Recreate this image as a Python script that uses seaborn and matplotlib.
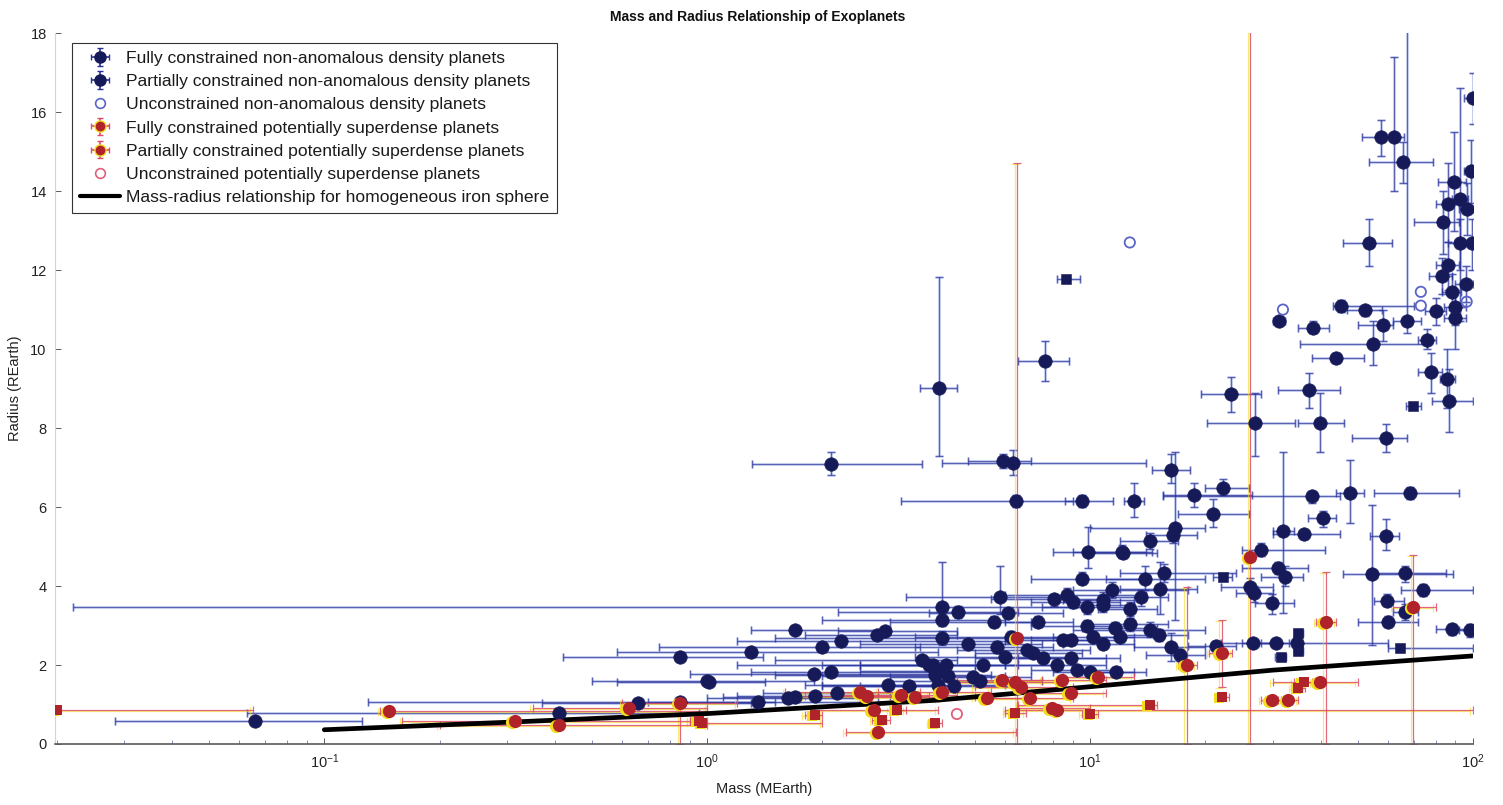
import numpy as np
import pandas as pd
import matplotlib
matplotlib.use("Agg")
import matplotlib.pyplot as plt
import matplotlib.transforms as mtransforms
from matplotlib.lines import Line2D
import seaborn as sns

# ---------------------------------------------------------------------------
# Fully constrained, non-anomalous density planets (giants / sub-giants)
# masses in Earth masses, radii in Earth radii, bounds are the error-bar ends
giant_mass = [100, 57.5, 62.2, 65.8, 67.1, 89.4, 98.6, 85.9, 92.5, 96.3,
              83.4, 92.5, 99.3, 53.6, 85.9, 82.8, 96.0, 88.1, 89.6, 79.9,
              89.6, 45.1, 52.3, 58.1, 31.1, 38.3, 54.8, 75.7, 43.9, 77.6,
              85.5, 86.8, 23.4, 37.2, 26.9, 39.9, 59.3, 16.3, 18.7, 22.3,
              13.0, 37.9, 47.7, 68.5, 21.0, 40.6, 31.9, 36.3, 59.3, 16.7,
              16.5, 14.3, 12.1, 27.9, 13.9, 15.6, 31.0, 32.2, 26.2, 26.8,
              54.5, 66.4, 74.1, 11.4, 15.2, 13.6, 10.8, 29.8, 59.8, 66.4,
              12.7, 60.1, 88.4, 98.2, 14.3, 15.1, 12.7, 26.7, 30.6, 34.7,
              21.3, 16.3, 17.2]
giant_radius = [16.36, 15.37, 15.37, 14.74, 10.70, 14.24, 14.51, 13.68, 13.80, 13.56,
                13.23, 12.68, 12.68, 12.68, 12.12, 11.85, 11.66, 11.45, 11.07, 10.96,
                10.78, 11.10, 10.99, 10.61, 10.71, 10.54, 10.12, 10.23, 9.78, 9.43,
                9.24, 8.69, 8.86, 8.96, 8.12, 8.14, 7.74, 6.95, 6.30, 6.49,
                6.16, 6.28, 6.36, 6.36, 5.82, 5.71, 5.39, 5.31, 5.27, 5.46,
                5.30, 5.15, 4.87, 4.91, 4.18, 4.32, 4.45, 4.24, 3.98, 3.83,
                4.30, 4.32, 3.90, 3.90, 3.92, 3.71, 3.65, 3.58, 3.63, 3.35,
                3.43, 3.10, 2.90, 2.89, 2.89, 2.76, 3.04, 2.55, 2.55, 2.55,
                2.48, 2.46, 2.25]
giant_mass_lo = [95, 51.2, 58, 53.5, 62, 81, 95, 80, 88, 92,
                 70, 86, 95, 45.8, 80, 77, 90, 83, 84, 75,
                 84, 43, 47, 50, 30, 35, 35.3, 72, 38, 72,
                 82, 78, 19.5, 31, 20.2, 35, 48.2, 14.5, 15.5, 20,
                 12.3, 15.5, 44, 55, 17, 37, 30, 30, 54, 10,
                 14, 12, 9, 25, 11, 12, 25, 28, 22, 24,
                 45.8, 55, 65, 9, 12, 11, 8.5, 27, 55, 62,
                 10.5, 50, 80, 92, 9, 12, 10, 22, 28, 25,
                 18, 13, 14]
giant_mass_hi = [104, 60.7, 66, 78.6, 73, 96, 100, 92, 97, 100,
                 92, 99, 103, 61.5, 92, 88, 100, 93, 96, 85,
                 96, 70, 58, 62, 32.3, 42, 75.9, 80, 52, 83,
                 90, 100, 28, 45, 34.3, 46, 67.1, 18.2, 26.5, 26,
                 13.8, 45, 52, 92, 26, 44, 34, 45, 64, 20,
                 19, 17, 14.5, 41, 20, 24, 37, 36, 30, 30,
                 88.7, 85, 100, 18, 19, 16, 13, 34, 66, 72,
                 15, 72, 97, 100, 20, 18, 16, 30, 33, 60,
                 24, 20, 20]
giant_rad_lo = [15.7, 14.9, 14.0, 14.2, 10.4, 13.0, 13.7, 12.7, 10.7, 12.9,
                12.4, 12.0, 12.0, 12.1, 11.5, 11.4, 11.2, 11.0, 10.6, 10.6,
                10.0, 10.95, 10.85, 10.2, 10.6, 10.4, 9.6, 10.0, 9.65, 8.9,
                8.5, 7.9, 8.4, 8.5, 7.3, 7.4, 7.4, 6.6, 6.0, 6.3,
                5.75, 6.1, 5.6, 6.2, 5.5, 5.5, 3.31, 5.2, 4.9, 3.14,
                5.1, 4.95, 4.7, 4.75, 3.9, 4.1, 4.3, 4.0, 3.8, 3.6,
                2.5, 4.1, 3.75, 3.7, 3.3, 3.5, 3.45, 3.3, 3.5, 3.15,
                3.25, 2.95, 2.75, 2.7, 2.7, 2.6, 2.85, 2.45, 2.45, 2.45,
                2.35, 2.1, 2.1]
giant_rad_hi = [17.0, 15.8, 17.4, 15.25, 18.5, 15.5, 15.3, 14.7, 16.6, 14.2,
                14.0, 13.3, 13.3, 13.3, 12.7, 12.3, 12.1, 11.9, 11.5, 11.3,
                11.5, 11.25, 11.1, 11.0, 10.8, 10.7, 10.7, 10.5, 9.9, 9.9,
                10.0, 9.5, 9.3, 9.4, 8.9, 8.9, 8.1, 7.35, 6.6, 6.7,
                6.6, 6.4, 7.2, 6.5, 6.2, 5.9, 7.40, 5.4, 5.7, 7.4,
                5.5, 5.35, 5.05, 5.1, 4.5, 4.55, 4.6, 4.5, 4.2, 4.0,
                6.05, 4.5, 4.05, 4.1, 4.6, 3.9, 3.85, 3.8, 3.8, 3.55,
                3.6, 3.25, 3.05, 3.05, 3.1, 2.9, 3.2, 2.65, 2.65, 2.65,
                2.6, 2.8, 2.4]

# Fully constrained, non-anomalous density planets (small planets)
small_mass = [2.11, 5.94, 6.31, 6.40, 9.55, 4.02, 7.63, 9.86, 9.50, 4.11,
              4.53, 4.11, 4.11, 5.60, 6.09, 5.82, 7.33, 8.05, 8.69, 9.04,
              9.80, 10.8, 9.80, 11.6, 4.81, 6.20, 5.71, 6.84, 7.10, 7.55,
              8.52, 8.90, 10.2, 12.0, 10.8, 5.26, 6.00, 8.19, 8.90, 9.22,
              10.0, 11.7, 3.90, 4.20, 3.93, 4.25, 4.96, 5.15, 4.00, 4.40,
              1.70, 2.77, 2.92, 2.23, 2.00, 1.30, 1.90, 2.10, 1.01, 3.64,
              3.80, 3.95, 3.36, 2.97, 1.36, 1.63, 1.70, 1.91, 2.18, 0.066,
              0.41, 0.66, 0.85, 0.85, 1.00, 12.2]
small_radius = [7.09, 7.17, 7.12, 6.15, 6.15, 9.02, 9.70, 4.85, 4.19, 3.48,
                3.35, 3.14, 2.68, 3.10, 3.31, 3.71, 3.10, 3.66, 3.77, 3.60,
                3.48, 3.52, 2.99, 2.93, 2.53, 2.70, 2.45, 2.38, 2.30, 2.17,
                2.63, 2.63, 2.72, 2.72, 2.52, 2.00, 2.21, 2.00, 2.17, 1.87,
                1.83, 1.83, 2.00, 2.00, 1.75, 1.72, 1.70, 1.60, 1.49, 1.46,
                2.89, 2.76, 2.87, 2.62, 2.46, 2.32, 1.77, 1.83, 1.58, 2.13,
                2.00, 1.84, 1.47, 1.49, 1.07, 1.16, 1.18, 1.22, 1.28, 0.57,
                0.78, 1.04, 1.07, 2.21, 1.60, 4.84]
small_mass_lo = [1.31, 4.8, 4.1, 3.2, 8.6, 3.6, 6.5, 8.0, 7.0, 0.022,
                 2.2, 2.0, 1.5, 3.0, 3.8, 3.3, 6.0, 5.5, 6.0, 7.0,
                 7.5, 9.0, 7.0, 9.5, 2.5, 3.5, 3.5, 4.5, 5.0, 5.0,
                 6.0, 7.0, 8.0, 10, 8.5, 2.5, 3.5, 6.0, 6.5, 7.0,
                 8.0, 9.5, 1.2, 2.5, 1.5, 2.0, 3.0, 3.0, 2.0, 2.5,
                 1.3, 1.8, 2.2, 1.2, 0.75, 0.58, 0.9, 1.3, 0.58, 1.5,
                 2.0, 2.5, 2.0, 1.8, 0.7, 1.0, 1.1, 1.2, 1.4, 0.0284,
                 0.063, 0.37, 0.13, 0.42, 0.5, 10]
small_mass_hi = [3.64, 7.0, 14.0, 9.0, 11.5, 4.5, 8.8, 14.0, 14.0, 10.0,
                 6.5, 6.0, 9.0, 7.0, 8.5, 9.0, 9.0, 11, 14, 12,
                 13, 13, 13, 15, 7.5, 9.0, 8.0, 10, 9.5, 11,
                 12, 11, 13, 15, 13, 8.0, 9.0, 11, 12, 12,
                 13, 14, 6.0, 6.5, 5.5, 6.0, 7.0, 7.5, 6.0, 6.5,
                 3.0, 4.5, 4.5, 6.0, 3.6, 4.0, 4.0, 3.8, 1.42, 4.5,
                 5.0, 5.0, 4.5, 4.0, 2.5, 2.6, 2.8, 3.0, 3.3, 0.1256,
                 0.95, 1.3, 1.5, 1.4, 1.9, 15]
small_rad_lo = [6.8, 7.0, 6.8, 6.0, 6.0, 7.29, 9.2, 4.45, 4.05, 3.2,
                3.2, 3.0, 2.5, 2.95, 3.2, 3.3, 2.95, 3.5, 3.6, 3.45,
                3.3, 3.35, 2.85, 2.8, 2.4, 2.55, 2.3, 2.25, 2.2, 2.05,
                2.5, 2.5, 2.6, 2.6, 2.4, 1.9, 2.1, 1.9, 2.05, 1.75,
                1.7, 1.7, 1.9, 1.9, 1.65, 1.62, 1.6, 1.5, 1.4, 1.36,
                2.8, 2.65, 2.8, 2.55, 2.4, 2.25, 1.7, 1.7, 1.52, 2.05,
                1.9, 1.75, 1.4, 1.42, 1.0, 1.08, 1.1, 1.15, 1.2, 0.55,
                0.72, 0.98, 1.0, 2.15, 1.55, 4.7]
small_rad_hi = [7.4, 7.35, 7.45, 6.3, 6.3, 11.83, 10.2, 5.5, 4.35, 4.6,
                3.5, 3.3, 2.85, 3.25, 3.45, 4.5, 3.25, 3.8, 3.95, 3.75,
                3.65, 3.7, 3.15, 3.1, 2.65, 2.85, 2.6, 2.5, 2.4, 2.3,
                2.75, 2.75, 2.85, 2.85, 2.65, 2.1, 2.3, 2.1, 2.3, 2.0,
                1.95, 1.95, 2.1, 2.1, 1.85, 1.82, 1.8, 1.7, 1.6, 1.56,
                3.0, 2.85, 2.95, 2.7, 2.55, 2.4, 1.85, 1.95, 1.65, 2.2,
                2.1, 1.95, 1.55, 1.56, 1.15, 1.24, 1.26, 1.3, 1.36, 0.6,
                0.84, 1.1, 1.14, 2.27, 1.66, 5.0]

# Partially constrained, non-anomalous density planets (mass error only)
part_mass = [8.66, 22.3, 35.0, 35.0, 31.6, 64.5, 69.8]
part_radius = [11.77, 4.24, 2.80, 2.36, 2.21, 2.44, 8.56]
part_mass_lo = [8.2, 21.0, 34.0, 34.0, 30.5, 60, 67]
part_mass_hi = [9.4, 23.5, 36.0, 36.0, 32.5, 100, 73]

# Unconstrained, non-anomalous density planets
unc_mass = [12.7, 73.1, 73.1, 96.3, 31.9]
unc_radius = [12.7, 11.45, 11.10, 11.2, 11.0]

# Fully constrained, potentially superdense planets
dense_mass = [26.2, 69.8, 41.3, 22.1, 17.9, 39.8, 29.8, 32.9, 6.45, 6.37,
              6.60, 8.45, 10.5, 6.97, 7.94, 8.20, 5.38, 4.10, 8.90, 5.90,
              2.51, 2.62, 2.72, 2.80, 3.20, 3.50, 0.148, 0.314, 0.409, 0.624,
              0.85]
dense_radius = [4.74, 3.46, 3.10, 2.30, 2.00, 1.58, 1.11, 1.11, 2.68, 1.58,
                1.45, 1.62, 1.70, 1.16, 0.90, 0.85, 1.16, 1.32, 1.30, 1.63,
                1.32, 1.22, 0.86, 0.31, 1.25, 1.20, 0.83, 0.57, 0.48, 0.90,
                1.05]
dense_mass_lo = [25.5, 62, 39, 20.5, 17.0, 30, 28, 31, 6.3, 4.5,
                 5.0, 6.5, 8.5, 5.5, 6.5, 6.0, 4.0, 2.8, 7.0, 4.5,
                 1.6, 1.8, 1.9, 2.3, 2.2, 2.5, 0.14, 0.16, 0.2, 0.35,
                 0.6]
dense_mass_hi = [27, 80, 44, 23.5, 19.0, 50, 31.5, 35, 6.6, 8.5,
                 9.0, 11, 13, 9.0, 10.0, 100, 7.0, 5.5, 11, 7.5,
                 3.6, 3.8, 4.0, 6.4, 4.5, 5.0, 1.0, 0.9, 1.0, 1.0,
                 1.2]
dense_rad_lo = [0.0, 0.0, 0.0, 1.45, 0.0, 1.5, 1.05, 1.05, 0.0, 1.5,
                1.38, 1.55, 1.62, 1.1, 0.84, 0.8, 1.1, 1.25, 1.22, 1.55,
                1.25, 1.15, 0.8, 0.25, 1.18, 1.13, 0.78, 0.52, 0.43, 0.84,
                0.0]
dense_rad_hi = [18.5, 4.78, 4.36, 3.14, 3.98, 1.66, 1.17, 1.17, 14.7, 1.66,
                1.52, 1.7, 1.78, 1.22, 0.96, 0.9, 1.22, 1.39, 1.38, 1.71,
                1.39, 1.29, 0.92, 0.37, 1.32, 1.27, 0.88, 0.62, 0.53, 0.96,
                1.14]

# Partially constrained, potentially superdense planets
pdense_mass = [36.1, 35.0, 22.1, 14.3, 0.020, 0.95, 2.86, 1.91, 0.97, 3.13, 3.94, 6.37, 10.0]
pdense_radius = [1.58, 1.41, 1.20, 0.99, 0.87, 0.57, 0.61, 0.73, 0.54, 0.86, 0.52, 0.79, 0.76]
pdense_mass_lo = [34, 33.5, 21.5, 6.5, 0.0197, 0.9, 2.7, 1.8, 0.95, 3.0, 3.8, 6.0, 9.5]
pdense_mass_hi = [38, 36.5, 23, 15, 0.065, 1.0, 3.0, 2.0, 2.0, 3.3, 4.1, 6.8, 10.5]

# Unconstrained, potentially superdense planets
udense_mass = [4.49]
udense_radius = [0.76]

# Homogeneous iron sphere mass-radius curve
iron_mass = [0.1, 0.3, 1, 4, 10, 30, 100]
iron_radius = [0.36, 0.55, 0.77, 1.11, 1.45, 1.87, 2.23]

LEGEND_LABELS = [
    "Fully constrained non-anomalous density planets",
    "Partially constrained non-anomalous density planets",
    "Unconstrained non-anomalous density planets",
    "Fully constrained potentially superdense planets",
    "Partially constrained potentially superdense planets",
    "Unconstrained potentially superdense planets",
    "Mass-radius relationship for homogeneous iron sphere",
]

# ---------------------------------------------------------------------------
NAVY = "#161a58"
BLUE_BAR = "#2a2f95"
BLUE_HALO = "#8fa6ea"
OPEN_BLUE = "#5a64c8"
RED = "#b0232b"
RED_BAR = "#dc4d68"
YELLOW = "#f3dc1c"
OPEN_RED = "#e0607a"

sns.set_theme(style="white")
plt.rcParams["font.family"] = ["Liberation Sans", "DejaVu Sans"]

fig = plt.figure(figsize=(15.03, 8.05), dpi=100)
ax = fig.add_axes([0.0366, 0.0758, 0.9434, 0.883])
ax.set_xscale("log")


def frame(mass, radius, mlo=None, mhi=None, rlo=None, rhi=None):
    df = pd.DataFrame({"mass": mass, "radius": radius})
    df["mlo"] = mlo if mlo is not None else df["mass"]
    df["mhi"] = mhi if mhi is not None else df["mass"]
    df["rlo"] = rlo if rlo is not None else df["radius"]
    df["rhi"] = rhi if rhi is not None else df["radius"]
    return df


giants = frame(giant_mass, giant_radius, giant_mass_lo, giant_mass_hi, giant_rad_lo, giant_rad_hi)
smalls = frame(small_mass, small_radius, small_mass_lo, small_mass_hi, small_rad_lo, small_rad_hi)
blue_full = pd.concat([giants, smalls], ignore_index=True)
blue_part = frame(part_mass, part_radius, part_mass_lo, part_mass_hi)
blue_unc = frame(unc_mass, unc_radius)
red_full = frame(dense_mass, dense_radius, dense_mass_lo, dense_mass_hi, dense_rad_lo, dense_rad_hi)
red_part = frame(pdense_mass, pdense_radius, pdense_mass_lo, pdense_mass_hi)
red_unc = frame(udense_mass, udense_radius)


def draw_bars(df, core, halo, z, halo_alpha=0.4, core_alpha=0.7, transform=None):
    xerr = np.vstack([df["mass"] - df["mlo"], df["mhi"] - df["mass"]])
    yerr = np.vstack([df["radius"] - df["rlo"], df["rhi"] - df["radius"]])
    kw = {} if transform is None else {"transform": transform}
    if halo is not None:
        ax.errorbar(df["mass"], df["radius"], xerr=xerr, yerr=yerr, fmt="none",
                    ecolor=halo, elinewidth=2.2, capsize=3, capthick=2.0,
                    alpha=halo_alpha, zorder=z, **kw)
    ax.errorbar(df["mass"], df["radius"], xerr=xerr, yerr=yerr, fmt="none",
                ecolor=core, elinewidth=0.9, capsize=3, capthick=0.9,
                alpha=core_alpha, zorder=z + 0.1, **kw)


shadow = mtransforms.offset_copy(ax.transData, fig=fig, x=-2.5, y=-1.0, units="dots")

# error bars
draw_bars(blue_full, BLUE_BAR, BLUE_HALO, 1.0)
draw_bars(blue_part, BLUE_BAR, BLUE_HALO, 1.0)
draw_bars(red_full, YELLOW, None, 1.4, core_alpha=0.6, transform=shadow)
draw_bars(red_part, YELLOW, None, 1.4, core_alpha=0.6, transform=shadow)
draw_bars(red_full, RED_BAR, None, 1.5, core_alpha=0.85)
draw_bars(red_part, RED_BAR, None, 1.5, core_alpha=0.85)

# iron sphere curve
sns.lineplot(x=iron_mass, y=iron_radius, color="black", linewidth=3.4, ax=ax,
             zorder=2.5, sort=True)

# markers
sns.scatterplot(data=blue_full, x="mass", y="radius", marker="o", s=95,
                color=NAVY, edgecolor=NAVY, linewidth=0.4, ax=ax, zorder=4)
sns.scatterplot(data=blue_part, x="mass", y="radius", marker="s", s=55,
                color=NAVY, edgecolor=NAVY, linewidth=0.4, ax=ax, zorder=4)
sns.scatterplot(data=blue_unc, x="mass", y="radius", marker="o", s=55,
                facecolor="none", edgecolor=OPEN_BLUE, linewidth=1.3, ax=ax, zorder=4)
sns.scatterplot(data=red_full, x="mass", y="radius", marker="o", s=90,
                color=YELLOW, edgecolor=YELLOW, linewidth=0, ax=ax, zorder=4.5,
                transform=shadow)
sns.scatterplot(data=red_part, x="mass", y="radius", marker="s", s=60,
                color=YELLOW, edgecolor=YELLOW, linewidth=0, ax=ax, zorder=4.5,
                transform=shadow)
sns.scatterplot(data=red_full, x="mass", y="radius", marker="o", s=90,
                color=RED, edgecolor=RED, linewidth=0, ax=ax, zorder=5)
sns.scatterplot(data=red_part, x="mass", y="radius", marker="s", s=60,
                color=RED, edgecolor=RED, linewidth=0, ax=ax, zorder=5)
sns.scatterplot(data=red_unc, x="mass", y="radius", marker="o", s=55,
                facecolor="none", edgecolor=OPEN_RED, linewidth=1.3, ax=ax, zorder=5)

# axes
ax.set_xlim(0.0198, 100)
ax.set_ylim(0, 18)
ax.set_yticks(np.arange(0, 19, 2))
ax.set_xticks([0.1, 1, 10, 100])
ax.tick_params(axis="both", which="major", direction="in", length=4, width=0.6,
               labelsize=10.5, colors="#444444", labelcolor="#222222",
               bottom=True, left=True, top=False, right=False, pad=6)
ax.tick_params(axis="x", which="minor", direction="in", length=3, width=0.6,
               colors="#6a78c8", bottom=True)
for side in ("top", "right"):
    ax.spines[side].set_visible(False)
ax.spines["left"].set_color("#d4d4d4")
ax.spines["left"].set_linewidth(0.8)
ax.spines["bottom"].set_color("#5a5a5a")
ax.spines["bottom"].set_linewidth(1.2)
ax.grid(False)

ax.set_xlabel("Mass (MEarth)", fontsize=10.5, color="#222222", labelpad=8)
ax.set_ylabel("Radius (REarth)", fontsize=10.5, color="#222222", labelpad=6)
fig.text(0.504, 0.988, "Mass and Radius Relationship of Exoplanets",
         ha="center", va="top", fontsize=10, fontweight="bold", color="#111111")

# legend built from proxy error-bar artists
def proxy(marker, face, edge, bar):
    if bar is None:
        return Line2D([], [], linestyle="none", marker=marker, markersize=7,
                      markerfacecolor=face, markeredgecolor=edge, markeredgewidth=1.2)
    return ax.errorbar([np.nan], [np.nan], xerr=[1], yerr=[1], fmt=marker,
                       markersize=8, markerfacecolor=face, markeredgecolor=edge,
                       ecolor=bar, elinewidth=1.2, capsize=2)


handles = [
    proxy("o", NAVY, NAVY, BLUE_BAR),
    proxy("o", NAVY, NAVY, BLUE_BAR),
    proxy("o", "none", OPEN_BLUE, None),
    proxy("o", RED, YELLOW, RED_BAR),
    proxy("o", RED, YELLOW, RED_BAR),
    proxy("o", "none", OPEN_RED, None),
    Line2D([], [], color="black", linewidth=3.0),
]
leg = ax.legend(handles, LEGEND_LABELS, loc="upper left",
                bbox_to_anchor=(0.012, 0.986), borderaxespad=0, frameon=True,
                fancybox=False, framealpha=1, edgecolor="#333333",
                fontsize=12.6, handlelength=2.3, handletextpad=0.35,
                labelspacing=0.45, borderpad=0.45)
leg.get_frame().set_linewidth(0.8)
for t in leg.get_texts():
    t.set_color("#1a1a1a")

fig.savefig("out.png", dpi=100, facecolor="white")
